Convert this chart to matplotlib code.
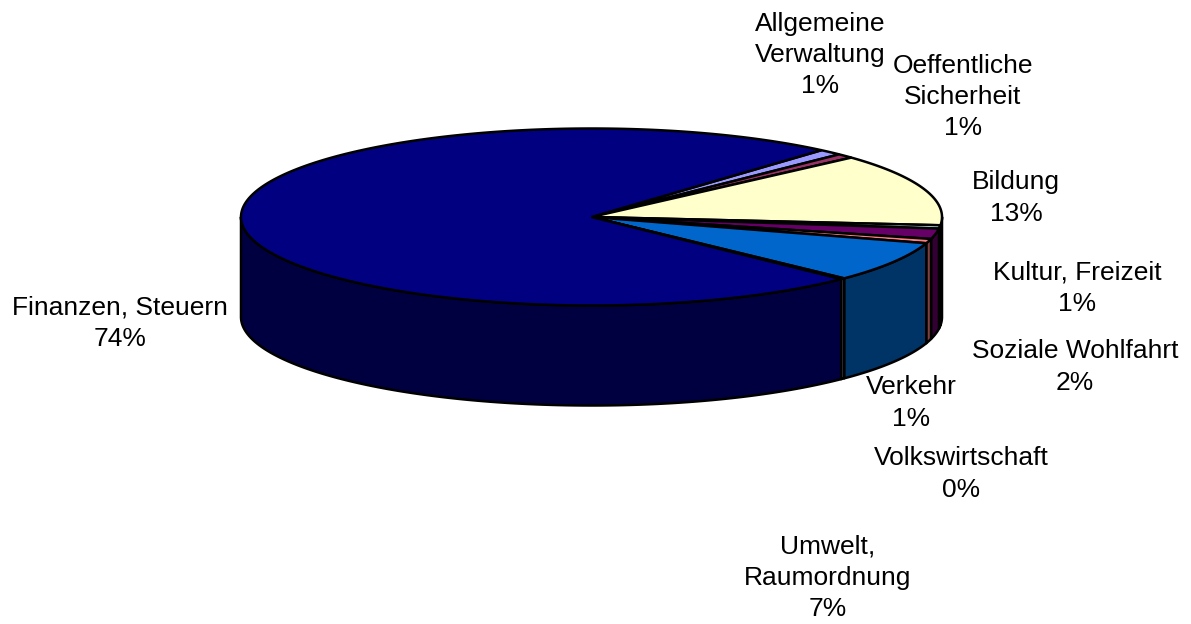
# 3D-style pie chart of expenditure shares (Excel look)

import matplotlib.pyplot as plt
import numpy as np

# slice data, in the order they are drawn (clockwise)
categories = ["Allgemeine Verwaltung", "Oeffentliche Sicherheit", "Bildung",
              "Kultur, Freizeit", "Soziale Wohlfahrt", "Verkehr",
              "Umwelt, Raumordnung", "Volkswirtschaft", "Finanzen, Steuern"]
shares = [1.1, 0.8, 13.2, 0.6, 1.9, 0.8, 7.4, 0.2, 74.0]
pct_labels = ["1%", "1%", "13%", "1%", "2%", "1%", "7%", "0%", "74%"]
label_text = ["Allgemeine\nVerwaltung", "Oeffentliche\nSicherheit", "Bildung",
              "Kultur, Freizeit", "Soziale Wohlfahrt", "Verkehr",
              "Umwelt,\nRaumordnung", "Volkswirtschaft", "Finanzen, Steuern"]

top_colors = ["#9999FF", "#993366", "#FFFFCC", "#CCFFFF", "#660066",
              "#FF8080", "#0066CC", "#CCCCFF", "#000080"]
side_colors = ["#4D4D80", "#4D1A33", "#808066", "#668080", "#330033",
               "#804040", "#003366", "#666680", "#000040"]

# label positions (pixel coords, centre of text block)
label_pos = [(820, 55), (963, 97), (1016, 198), (1077, 288), (1075, 367),
             (911, 403), (828, 578), (961, 474), (120, 323)]

# pie geometry in pixels
cx, cy = 591.5, 217
rx, ry = 350.5, 88.5
depth = 100
start = 41.0  # degrees, clockwise from top

fig = plt.figure(figsize=(11.91, 6.24), dpi=100)
ax = fig.add_axes([0, 0, 1, 1])
ax.set_xlim(0, 1191)
ax.set_ylim(624, 0)
ax.axis('off')

fracs = np.array(shares) / np.sum(shares)
edges = start + 360 * np.concatenate([[0], np.cumsum(fracs)])


def rim(theta):
    t = np.radians(theta)
    return cx + rx * np.sin(t), cy - ry * np.cos(t)


# side walls (only the front half, 90..270 deg, is visible)
for i in range(len(shares)):
    a0, a1 = edges[i], edges[i + 1]
    for off in (0, 360):
        lo = max(a0, 90 + off)
        hi = min(a1, 270 + off)
        if hi <= lo:
            continue
        th = np.linspace(lo, hi, 200)
        x, y = rim(th)
        xs = np.concatenate([x, x[::-1]])
        ys = np.concatenate([y, y[::-1] + depth])
        ax.fill(xs, ys, facecolor=side_colors[i], edgecolor='black',
                linewidth=1.8, joinstyle='round', zorder=1)

# top wedges
for i in range(len(shares)):
    th = np.linspace(edges[i], edges[i + 1], 300)
    x, y = rim(th)
    xs = np.concatenate([[cx], x, [cx]])
    ys = np.concatenate([[cy], y, [cy]])
    ax.fill(xs, ys, facecolor=top_colors[i], edgecolor='black',
            linewidth=1.8, joinstyle='miter', zorder=2)

# data labels
for i in range(len(shares)):
    ax.text(label_pos[i][0], label_pos[i][1],
            label_text[i] + "\n" + pct_labels[i],
            ha='center', va='center', multialignment='center',
            fontsize=19, family='Liberation Sans', linespacing=1.37)

plt.savefig("out.png", dpi=100)
